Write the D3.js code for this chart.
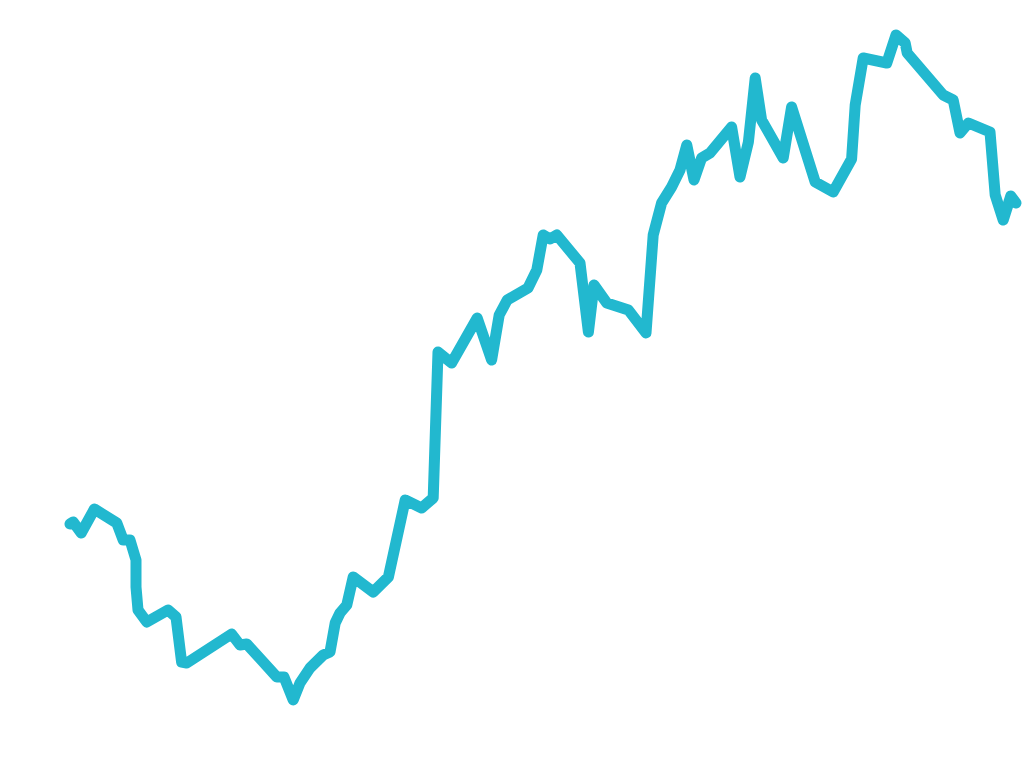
<!DOCTYPE html>
<html>
<head>
<meta charset="utf-8">
<script src="https://cdn.jsdelivr.net/npm/d3@7"></script>
<style>
html,body{margin:0;padding:0;background:#fff;}
svg{display:block;}
</style>
</head>
<body>
<svg id="chart" width="1030" height="773"></svg>
<script>
const days = [0,0.8,2.8,6.1,11.7,13.3,15.0,16.5,16.5,17.0,19.2,24.5,26.5,27.9,29.2,40.4,42.5,44.2,51.7,53.5,55.8,57.5,60.0,63.3,65.0,66.3,67.5,69.2,70.8,75.8,79.6,83.8,87.9,90.8,92.0,95.4,101.8,105.4,107.3,109.3,114.5,116.7,118.3,120.0,121.7,127.5,129.6,131.0,134.2,139.6,144.0,145.8,147.9,150.4,152.5,154.2,156.0,157.9,160.0,165.4,167.5,169.6,171.3,172.9,178.3,180.4,186.3,190.8,195.4,196.3,198.3,204.2,206.5,208.8,209.3,218.3,220.8,222.5,224.6,230.0,231.3,233.3,235.2,236.5];
const values = [19.6,19.8,18.7,21.1,19.7,18.0,18.0,16.0,13.3,11.0,9.8,11.0,10.3,5.8,5.7,8.6,7.5,7.6,4.3,4.3,2.0,3.7,5.2,6.5,6.8,9.7,10.7,11.5,14.3,12.8,14.3,22.0,21.2,22.2,36.8,35.7,40.2,36.0,40.5,42.0,43.2,45.0,48.5,48.1,48.5,45.7,38.8,43.5,41.7,41.0,38.7,48.5,51.7,53.3,55.0,57.5,54.0,56.2,56.7,59.3,54.3,57.8,64.2,60.0,56.2,61.3,53.8,52.8,56.1,61.5,66.2,65.7,68.5,67.7,66.7,62.5,62.0,58.7,59.7,58.8,52.5,50.0,52.4,51.7];

const data = days.map((d,i)=>({x:d,y:values[i]}));
const svg = d3.select("#chart");
const x = d3.scaleLinear().domain([0,240]).range([70,1030]);
const y = d3.scaleLinear().domain([0,72]).range([720,0]);

const line = d3.line().x(d=>x(d.x)).y(d=>y(d.y));
svg.append("path")
  .datum(data)
  .attr("d", line)
  .attr("fill","none")
  .attr("stroke","#22b8cf")
  .attr("stroke-width",11)
  .attr("stroke-linejoin","round")
  .attr("stroke-linecap","round");
</script>
</body>
</html>
